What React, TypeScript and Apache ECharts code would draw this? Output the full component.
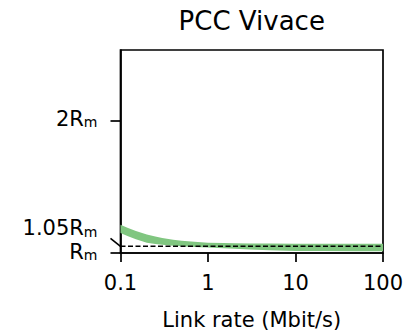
import React, { useEffect, useRef } from "react";
import * as echarts from "echarts";

const FONT = "DejaVu Sans";

// Link rates (Mbit/s) along the x axis
const rates = [0.1, 0.12, 0.15, 0.2, 0.25, 0.3, 0.4, 0.5, 0.7, 1, 1.5, 2, 3, 5, 10, 20, 50, 100];
// Upper and lower edge of the band (in units of R_m)
const upperBand = [1.213, 1.19, 1.165, 1.14, 1.124, 1.113, 1.1, 1.093, 1.084, 1.078, 1.075, 1.073, 1.072, 1.071, 1.07, 1.07, 1.07, 1.07];
const lowerBand = [1.151, 1.128, 1.103, 1.078, 1.068, 1.062, 1.055, 1.05, 1.045, 1.041, 1.036, 1.032, 1.026, 1.021, 1.016, 1.015, 1.014, 1.014];

// Reference (dashed) level
const refLevel = 1.05;
const refLabel = "1.05R";

// Axis ticks
const xTickValues = [0.1, 1, 10, 100];
const xTickLabels = ["0.1", "1", "10", "100"];
const yTickValues = [1, 2];
const yTickLabels = ["R", "2R"];
const ySub = "m";

const xMin = 0.1;
const xMax = 100;
const yMin = 1;
const yMax = 2.53;

const rich = {
  r: { fontSize: 21, lineHeight: 18, fontFamily: FONT, color: "#000", verticalAlign: "bottom" },
  s: { fontSize: 14, lineHeight: 14, fontFamily: FONT, color: "#000", verticalAlign: "bottom" },
};

export default function App() {
  const ref = useRef<HTMLDivElement>(null);

  useEffect(() => {
    if (!ref.current) return;
    const chart = echarts.init(ref.current, null, { renderer: "svg" });
    const black = "#000";
    const option: any = {
      animation: false,
      backgroundColor: "#fff",
      title: {
        text: "PCC Vivace",
        left: 251.75,
        textAlign: "center",
        top: 8,
        padding: 0,
        textStyle: { fontSize: 26, fontWeight: "normal", fontFamily: FONT, color: black },
      },
      grid: {
        left: 120.5,
        right: 29,
        top: 50,
        bottom: 78,
        show: true,
        borderColor: black,
        borderWidth: 1.7,
        backgroundColor: "transparent",
        containLabel: false,
        outerBoundsMode: "none",
      },
      xAxis: {
        type: "log",
        logBase: 10,
        min: xMin,
        max: xMax,
        name: "Link rate (Mbit/s)",
        nameLocation: "middle",
        nameGap: 56,
        nameTextStyle: { fontSize: 21, fontFamily: FONT, color: black },
        axisLine: { show: true, lineStyle: { color: black, width: 1.7 } },
        axisTick: { show: true, length: 9, lineStyle: { color: black, width: 1.7 } },
        axisLabel: {
          fontSize: 21,
          fontFamily: FONT,
          color: black,
          margin: 19,
          formatter: (v: number) => {
            let best = 0;
            xTickValues.forEach((t, i) => {
              if (Math.abs(Math.log10(t) - Math.log10(v)) < Math.abs(Math.log10(xTickValues[best]) - Math.log10(v))) best = i;
            });
            return xTickLabels[best];
          },
        },
        minorTick: { show: false },
        splitLine: { show: false },
      },
      yAxis: {
        type: "value",
        min: yMin,
        max: yMax,
        axisLine: { show: true, lineStyle: { color: black, width: 1.7 } },
        axisTick: { show: true, length: 10, customValues: yTickValues, lineStyle: { color: black, width: 1.7 } },
        axisLabel: {
          customValues: yTickValues,
          margin: 23,
          formatter: (v: number) => {
            const i = yTickValues.findIndex((t) => Math.abs(t - v) < 1e-6);
            return i >= 0 ? `{r|${yTickLabels[i]}}{s|${ySub}}` : "";
          },
          rich,
        },
        splitLine: { show: false },
      },
      series: [
        {
          type: "custom",
          coordinateSystem: "cartesian2d",
          data: [[rates[0], upperBand[0]]],
          z: 2,
          renderItem: (_params: any, api: any) => {
            const pts: number[][] = [];
            for (let i = 0; i < rates.length; i++) pts.push(api.coord([rates[i], upperBand[i]]));
            for (let i = rates.length - 1; i >= 0; i--) pts.push(api.coord([rates[i], lowerBand[i]]));
            return {
              type: "polygon",
              shape: { points: pts },
              style: { fill: "#80c680", stroke: "none" },
            };
          },
        },
        {
          type: "line",
          data: [[xMin, refLevel], [xMax, refLevel]],
          symbol: "none",
          z: 3,
          lineStyle: { color: black, width: 1.5, type: [5, 2.5] },
        },
        {
          type: "custom",
          coordinateSystem: "cartesian2d",
          data: [[xMin, refLevel]],
          clip: false,
          z: 4,
          renderItem: (_params: any, api: any) => {
            const p = api.coord([xMin, refLevel]);
            return {
              type: "group",
              children: [
                {
                  type: "line",
                  shape: { x1: p[0] - 10, y1: p[1] - 8, x2: p[0], y2: p[1] },
                  style: { stroke: black, lineWidth: 1.7 },
                },
                {
                  type: "text",
                  x: p[0] - 23,
                  y: p[1] - 16.5,
                  style: {
                    text: `{r|${refLabel}}{s|${ySub}}`,
                    rich,
                    align: "right",
                    verticalAlign: "middle",
                  },
                },
              ],
            };
          },
        },
      ],
    };
    chart.setOption(option);
    return () => chart.dispose();
  }, []);

  return (
    <div
      ref={ref}
      style={{ position: "fixed", left: 0, top: 0, width: 412, height: 331 }}
    />
  );
}
